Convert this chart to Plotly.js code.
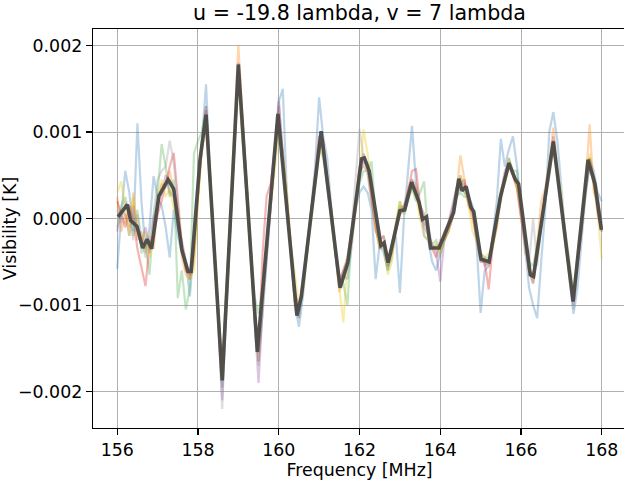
<!DOCTYPE html>
<html>
<head>
<meta charset="utf-8">
<script src="https://cdn.plot.ly/plotly-3.0.1.min.js"></script>
<style>
html,body{margin:0;padding:0;overflow:hidden;background:#fff;}
#plot{width:640px;height:483px;}
</style>
</head>
<body>
<div id="plot"></div>
<script>
// Values are in units of 1e-4 K
const UNIT = 1e-4;

const freq = [156.0,156.1,156.2,156.3,156.4,156.5,156.6,156.7,156.8,156.9,157.0,157.1,157.2,157.3,157.4,157.5,157.6,157.7,157.8,157.9,158.0,
158.1,158.2,158.3,158.4,158.5,158.6,158.7,158.8,158.9,159.0,159.1,159.2,159.3,159.4,159.5,159.6,159.7,159.8,159.9,160.0,
160.1,160.2,160.3,160.4,160.5,160.6,160.7,160.8,160.9,161.0,161.1,161.2,161.3,161.4,161.5,161.6,161.7,161.8,161.9,162.0,
162.1,162.2,162.3,162.4,162.5,162.6,162.7,162.8,162.9,163.0,163.1,163.2,163.3,163.4,163.5,163.6,163.7,163.8,163.9,164.0,
164.1,164.2,164.3,164.4,164.5,164.6,164.7,164.8,164.9,165.0,165.1,165.2,165.3,165.4,165.5,165.6,165.7,165.8,165.9,166.0,
166.1,166.2,166.3,166.4,166.5,166.6,166.7,166.8,166.9,167.0,167.1,167.2,167.3,167.4,167.5,167.6,167.7,167.8,167.9,168.0];

const visBlue = [-5.8,0.5,5.5,3.0,-1.5,11.0,2.0,-3.5,-1.0,4.9,2.5,1.5,-1.0,-4.5,1.0,-2.0,-4.0,-5.0,-9.0,-3.0,4.0,
10.0,15.5,5.0,-3.0,-12.0,-19.5,-10.5,-1.0,9.0,17.0,11.5,4.5,-3.0,-11.0,-16.5,-11.0,-5.0,2.0,8.0,13.5,
15.0,3.0,-4.5,-10.0,-12.5,-9.0,-4.0,1.0,6.0,14.0,9.5,7.0,1.5,-4.0,-7.0,-6.5,-7.0,-3.5,1.0,3.0,
3.7,3.0,1.0,-7.0,-3.0,-4.0,-6.0,-3.0,-2.0,-8.6,0.0,5.0,10.7,4.0,1.5,-2.0,-2.5,-5.0,-6.0,-4.0,
-2.5,-1.0,1.0,3.5,5.0,3.0,2.5,1.5,-3.0,-10.9,-6.0,-5.5,-2.0,2.0,9.2,6.0,8.0,9.5,6.0,1.5,
-3.5,-8.0,-10.0,-11.5,-5.0,1.0,10.0,12.3,9.0,3.0,-2.0,-7.0,-11.0,-8.0,-2.0,3.0,7.0,5.5,3.0,2.0];

const visOrange = [2.5,-1.5,0.5,-1.0,3.0,-2.5,-1.5,-4.0,-2.0,-3.5,1.5,4.0,3.5,5.5,3.0,1.0,-4.5,-6.5,-7.0,-5.0,2.5,
9.0,11.5,4.0,-4.0,-11.5,-18.0,-8.5,0.5,10.0,20.0,12.0,4.0,-3.0,-11.5,-16.5,-9.0,-3.5,2.5,7.5,11.5,
6.5,1.0,-4.0,-10.0,-10.0,-7.5,-3.5,0.0,4.0,9.0,8.5,5.0,0.0,-3.5,-8.5,-6.0,-4.5,-1.5,2.0,5.5,
6.0,5.5,2.0,-1.0,-3.5,-3.0,-5.5,-3.5,-0.5,1.5,1.0,3.5,4.5,4.0,0.5,-0.5,-1.5,-3.5,-3.0,-3.5,
-1.5,-0.5,1.0,3.0,7.3,4.5,2.0,0.0,-2.0,-4.5,-5.0,-5.5,-2.5,0.5,3.0,5.0,7.0,5.0,3.5,0.0,
-2.5,-6.0,-7.5,-3.0,2.0,3.5,6.5,10.5,6.0,1.0,-3.0,-6.5,-9.5,-4.0,0.0,4.0,10.9,3.0,2.0,-1.0];

const visGreen = [-1.0,1.5,2.5,0.5,-2.0,1.0,-4.0,-3.0,-6.5,0.0,3.0,8.6,6.0,2.5,4.5,-9.2,-6.0,-10.5,-8.0,7.5,9.0,
10.0,13.0,4.0,-3.5,-10.5,-17.5,-8.0,0.0,9.5,16.5,9.0,3.0,-4.0,-9.0,-11.0,-8.0,-3.0,2.0,6.5,11.0,
7.5,2.0,-3.5,-9.5,-11.5,-8.0,-3.0,1.0,4.5,8.0,7.0,4.0,1.0,-3.0,-7.0,-7.5,-10.0,-2.5,1.5,4.0,
5.5,5.5,6.6,0.0,-2.5,-3.5,-6.0,-4.5,-1.0,2.0,0.5,2.0,3.5,2.0,3.0,4.3,-2.0,-3.0,-2.5,-4.0,
-2.5,-1.5,0.0,2.5,3.0,2.5,2.5,1.0,-1.5,-4.0,-4.5,-4.5,-3.0,-0.5,2.0,4.5,7.0,5.5,5.5,1.0,
-2.5,-5.0,-5.5,-3.0,-1.0,2.0,5.0,8.0,5.5,2.0,-2.0,-5.5,-8.5,-5.0,-1.0,3.0,6.0,5.0,2.0,-1.5];

const visRed = [2.0,0.5,-1.0,1.5,0.0,-3.5,-5.5,-7.8,-3.0,-2.0,0.5,2.0,4.0,6.0,7.6,2.0,-3.0,-6.0,-6.5,-3.5,3.0,
8.5,12.5,4.5,-3.0,-11.0,-18.0,-9.0,0.0,9.0,17.0,11.5,4.0,-3.5,-10.5,-15.5,-4.0,2.6,4.0,8.0,13.0,
7.5,2.5,-3.0,-8.5,-10.5,-7.5,-4.0,0.5,5.0,9.5,9.0,4.5,1.0,-3.5,-7.0,-6.0,-5.0,-2.5,1.0,6.0,
7.5,6.0,2.5,-1.5,-2.5,-2.0,-5.0,-4.0,-1.5,0.5,1.0,3.0,5.5,5.7,1.5,0.5,-1.5,-3.5,-4.5,-2.5,
-2.5,-1.5,0.0,2.5,4.0,4.5,1.5,0.5,-2.5,-5.0,-5.0,-8.2,-3.0,-1.0,2.5,4.5,6.0,5.0,3.5,0.0,
-3.0,-6.0,-6.5,-4.0,-1.0,2.5,6.0,9.0,5.5,1.5,-2.5,-6.0,-9.0,-5.5,-1.5,4.0,7.0,4.5,0.5,-1.5];

const visPurple = [-1.5,1.0,0.5,-2.0,1.5,-1.5,-3.0,-1.0,-4.0,0.0,1.5,3.0,5.0,3.0,2.5,-1.0,-2.5,-5.0,-7.0,-4.0,3.5,
8.5,13.0,4.0,-3.5,-11.5,-21.0,-10.0,-1.0,8.5,18.0,10.5,3.5,-4.0,-11.5,-19.0,-10.5,-4.5,1.0,7.0,13.5,
7.0,1.5,-3.5,-9.0,-11.5,-7.5,-3.5,0.5,4.5,8.5,8.0,4.0,0.5,-3.5,-8.0,-7.0,-5.5,-2.0,1.5,5.0,
6.5,6.5,3.0,-1.0,-3.5,-3.0,-5.5,-3.5,-1.5,1.0,1.5,3.0,4.5,3.0,1.0,-1.0,-2.0,-3.0,-4.0,-7.3,
-2.5,-0.5,1.5,3.5,4.0,4.0,2.5,1.0,-2.0,-4.0,-5.5,-5.0,-2.0,0.5,3.0,5.5,6.5,5.0,4.5,1.0,
-3.0,-6.0,-7.5,-4.0,-1.0,2.5,6.0,9.5,5.0,1.0,-2.5,-6.0,-10.0,-5.5,-0.5,3.5,6.0,5.0,2.5,-0.5];

const visGray = [1.0,-0.5,2.0,0.0,-2.5,0.5,-2.0,-4.5,-2.0,0.5,4.5,5.5,6.0,9.0,6.5,1.0,-3.5,-5.5,-6.0,-3.0,4.0,
9.0,12.0,4.0,-3.5,-11.5,-22.0,-10.0,-1.0,8.0,17.5,10.0,3.5,-3.5,-11.0,-17.0,-9.5,-4.0,1.0,7.0,14.0,
7.0,1.5,-3.5,-8.5,-10.5,-7.0,-3.0,1.0,4.0,8.0,8.0,3.5,0.5,-3.5,-7.5,-6.0,-4.5,-1.5,5.0,10.3,
7.0,5.0,2.0,-0.5,-2.5,-2.0,-5.0,-3.0,-1.0,1.0,1.5,2.5,4.0,3.5,1.0,-0.5,-1.0,-3.0,-3.5,-4.5,
-2.0,-1.0,0.5,2.5,3.5,3.0,2.0,1.0,-2.0,-5.0,-4.5,-5.0,-2.5,0.5,2.5,5.0,6.5,5.5,4.0,0.5,
-4.0,-5.0,0.0,-5.5,-1.0,2.0,6.0,9.0,5.0,1.5,-2.0,-6.5,-10.5,-5.0,-1.0,3.0,6.5,4.0,1.5,-1.0];

const visYellow = [3.0,4.3,1.0,-2.0,2.5,-1.0,-2.5,-1.5,-4.5,-2.5,2.0,4.5,2.5,3.5,1.0,0.5,-3.0,-5.0,-7.0,-6.0,2.0,
8.0,11.0,3.5,-4.5,-11.0,-18.5,-9.5,0.5,9.5,17.0,9.5,3.0,-3.0,-10.5,-14.5,-9.0,-4.0,1.5,5.5,10.0,
7.5,3.5,-3.0,-6.5,-10.0,-8.5,-4.0,0.0,3.5,8.0,7.5,4.5,0.5,-4.0,-8.0,-12.0,-5.0,-3.0,0.5,4.5,
10.3,7.5,4.0,-1.0,-3.5,-2.5,-6.5,-5.0,-0.5,2.0,0.5,2.5,3.5,2.5,0.0,-2.0,-2.5,-3.5,-3.0,-4.0,
-2.5,-1.5,0.5,2.5,5.0,3.5,1.5,-1.5,-2.5,-4.0,-4.5,-4.0,-3.5,-1.0,3.5,4.0,6.0,5.5,3.5,1.5,
-2.0,-6.0,-7.0,-3.0,-0.5,3.0,5.5,8.0,6.0,2.5,-2.5,-6.0,-9.0,-5.5,-1.0,4.0,7.5,4.0,0.5,-4.7];

// Mean line vertices
const meanFreq = [156.02,156.25,156.33,156.49,156.63,156.74,156.85,157.03,157.26,157.40,157.60,157.75,157.83,158.05,158.20,
158.60,159.00,159.47,159.98,160.45,160.56,161.05,161.52,161.71,162.05,162.12,162.24,162.53,162.61,162.71,
163.00,163.12,163.29,163.48,163.56,163.66,163.76,163.97,164.33,164.46,164.54,164.64,164.76,164.83,165.01,
165.21,165.49,165.70,165.86,165.94,166.23,166.31,166.80,167.29,167.66,167.83,167.99];
const meanVis = [0.2,1.6,-0.2,-0.9,-3.4,-2.4,-3.5,2.6,4.5,3.4,-3.6,-6.1,-6.1,6.8,12.0,
-18.7,17.8,-15.4,12.1,-11.2,-9.0,10.1,-8.0,-5.1,6.9,7.0,5.5,-3.1,-2.8,-5.1,
0.9,1.0,4.2,1.8,-0.1,0.2,-3.4,-3.4,0.7,4.6,3.2,3.7,1.3,0.8,-4.7,
-5.0,2.5,6.4,4.5,4.0,-6.5,-6.7,8.9,-9.6,6.8,4.0,-1.3];

const seriesList = [
  {y: visBlue,   color: '#377eb8'},
  {y: visOrange, color: '#ff7f00'},
  {y: visGreen,  color: '#4daf4a'},
  {y: visRed,    color: '#e41a1c'},
  {y: visPurple, color: '#984ea3'},
  {y: visGray,   color: '#999999'},
  {y: visYellow, color: '#e8c800'}
];

const toK = a => a.map(v => v * UNIT);

const traces = seriesList.map(s => ({
  type: 'scatter', mode: 'lines', x: freq, y: toK(s.y),
  line: {color: s.color, width: 2.2}, opacity: 0.33, hoverinfo: 'skip', showlegend: false
}));
traces.push({
  type: 'scatter', mode: 'lines', x: meanFreq, y: toK(meanVis),
  line: {color: '#4a4a48', width: 3.6}, opacity: 0.95, hoverinfo: 'skip', showlegend: false
});

const yTickVals = [-0.002, -0.001, 0, 0.001, 0.002];
const yTickText = ['\u22120.002', '\u22120.001', '0.000', '0.001', '0.002'];
const xTickVals = [156, 158, 160, 162, 164, 166, 168];

const font = {family: 'DejaVu Sans, sans-serif', size: 17.4, color: '#000'};

const layout = {
  width: 640, height: 483,
  margin: {l: 93, r: 14, t: 29, b: 55, pad: 0},
  paper_bgcolor: '#fff', plot_bgcolor: '#fff',
  font: font,
  showlegend: false,
  title: {text: 'u = -19.8 lambda, v = 7 lambda', font: {family: 'DejaVu Sans, sans-serif', size: 20.6, color: '#000'},
          x: 0.5, xref: 'paper', y: 0.974, yref: 'container', yanchor: 'middle'},
  xaxis: {
    range: [155.4, 168.6], tickvals: xTickVals, ticktext: xTickVals.map(String),
    showgrid: true, gridcolor: '#b0b0b0', gridwidth: 1, zeroline: false,
    showline: true, mirror: true, linecolor: '#000', linewidth: 1.2,
    ticks: 'outside', ticklen: 6, tickwidth: 1.2, tickcolor: '#000', tickfont: font,
    title: {text: 'Frequency [MHz]', font: font, standoff: 4}
  },
  yaxis: {
    range: [-0.00242, 0.00219], tickvals: yTickVals, ticktext: yTickText,
    showgrid: true, gridcolor: '#b0b0b0', gridwidth: 1, zeroline: false,
    showline: true, mirror: true, linecolor: '#000', linewidth: 1.2,
    ticks: 'outside', ticklen: 6, tickwidth: 1.2, tickcolor: '#000', tickfont: font,
    title: {text: 'Visibility [K]', font: font, standoff: 0}
  }
};

Plotly.newPlot('plot', traces, layout, {displayModeBar: false, staticPlot: true});
</script>
</body>
</html>
